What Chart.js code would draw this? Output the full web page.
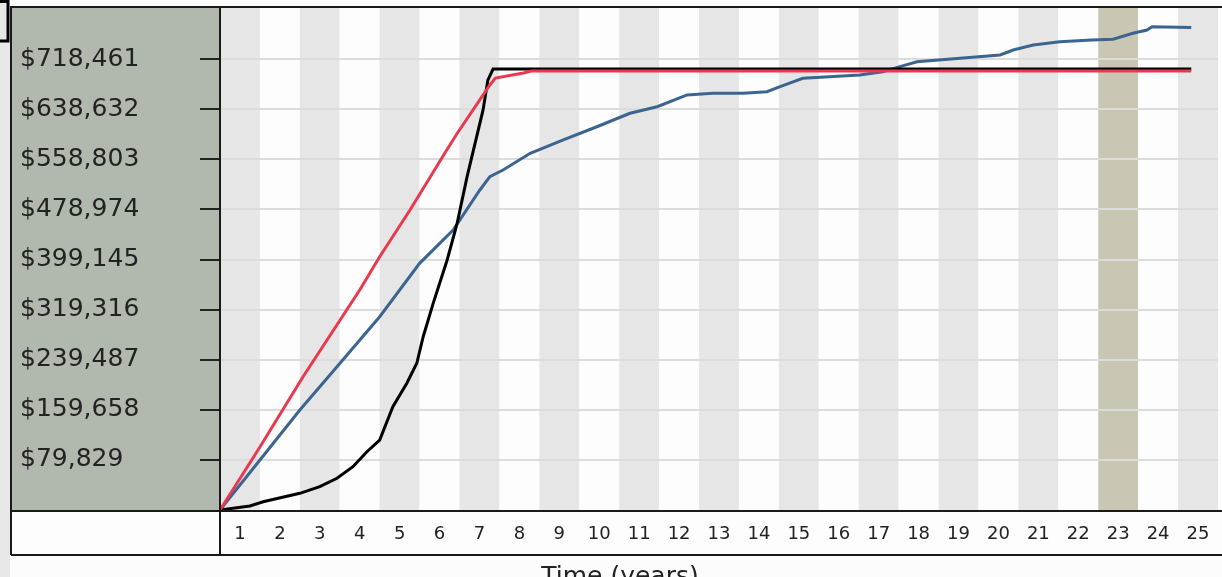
<!DOCTYPE html>
<html>
<head>
<meta charset="utf-8">
<script src="https://cdn.jsdelivr.net/npm/chart.js@4.4.0/dist/chart.umd.min.js"></script>
<style>
  html, body { margin: 0; padding: 0; background: #fcfcfc; overflow: hidden; }
  canvas { display: block; }
</style>
</head>
<body>
<canvas id="chart" width="1222" height="577"></canvas>
<script>
// x axis: years, labels sit in the middle of each year band
const yearLabels = ["1","2","3","4","5","6","7","8","9","10","11","12","13",
                    "14","15","16","17","18","19","20","21","22","23","24","25"];
const highlightYear = 23;
const yStep = 79829;
const yMax  = 798290;

// red series
const redT = [0, 1.0, 2.08, 3.5, 4.0, 4.76, 5.68, 5.94, 6.76, 6.9, 7.6, 7.8, 24.33];
const redV = [0, 100400, 212400, 350500, 403600, 478000, 573600, 600000, 677200, 688300, 696300, 699500, 699500];

// black series
const blackT = [0, 0.75, 1.08, 2.0, 2.5, 2.93, 3.33, 3.68, 4.0, 4.33, 4.68, 4.93, 5.09,
                5.34, 5.69, 5.94, 6.19, 6.59, 6.71, 6.84, 24.33];
const blackV = [0, 6400, 13200, 26600, 37100, 50500, 69000, 92900, 111500, 164600, 201900, 233800, 276100,
                329300, 398400, 456800, 531100, 637400, 685000, 702700, 702700];

// blue series
const blueT = [0, 1.0, 2.0, 2.93, 4.0, 5.0, 5.84, 6.51, 6.76, 7.09, 7.77, 8.6, 9.44, 10.27, 10.95,
               11.7, 12.35, 13.1, 13.7, 14.03, 14.6, 16.03, 16.6, 17.03, 17.46, 18.54, 19.54,
               19.87, 20.37, 21.04, 21.84, 22.37, 22.87, 23.22, 23.35, 24.33];
const blueV = [0, 79700, 159300, 228300, 308000, 393000, 446100, 509900, 531100, 541800, 568400, 589600,
               610700, 632100, 642600, 661300, 664000, 664000, 666500, 674500, 687900, 693100, 698400,
               706400, 714300, 719700, 725000, 733000, 740900, 746200, 748900, 750000, 759600, 764800,
               770100, 769000];

const FONT = "'DejaVu Sans', Verdana, sans-serif";
const pairs = (t, v) => t.map((x, i) => ({ x, y: v[i] }));
const money = v => "$" + String(v).replace(/\B(?=(\d{3})+(?!\d))/g, ",");

// background panels and year stripes
const backdrop = {
  id: "backdrop",
  beforeDraw(chart) {
    const { ctx, chartArea: a, scales: { x } } = chart;
    ctx.save();
    ctx.fillStyle = "#fcfcfc";
    ctx.fillRect(0, 0, chart.width, chart.height);
    ctx.fillStyle = "#e8e8e8";
    ctx.fillRect(0, 0, 10, chart.height);
    ctx.fillStyle = "#b1b8ae";
    ctx.fillRect(11, 7, a.left - 11, a.bottom - 7);
    ctx.fillStyle = "#fdfdfd";
    ctx.fillRect(11, a.bottom, chart.width - 11, 45);
    ctx.fillRect(a.left, 7, chart.width - a.left, a.bottom - 7);
    yearLabels.forEach((l, i) => {
      const x0 = x.getPixelForValue(i), x1 = x.getPixelForValue(i + 1);
      if (Number(l) === highlightYear) ctx.fillStyle = "#c9c7b3";
      else ctx.fillStyle = i % 2 === 0 ? "#e6e6e6" : "#fdfdfd";
      ctx.fillRect(x0, 7, x1 - x0, a.bottom - 7);
    });
    ctx.restore();
  },
  afterDraw(chart) {
    const { ctx, chartArea: a } = chart;
    const W = chart.width;
    ctx.save();
    ctx.strokeStyle = "#1a1a1a";
    ctx.lineWidth = 2;
    ctx.beginPath();
    ctx.moveTo(10, 7);  ctx.lineTo(W, 7);
    ctx.moveTo(11, 6);  ctx.lineTo(11, a.bottom + 45);
    ctx.moveTo(a.left, 6); ctx.lineTo(a.left, a.bottom + 45);
    ctx.moveTo(11, a.bottom + 1); ctx.lineTo(W, a.bottom + 1);
    ctx.moveTo(11, a.bottom + 45); ctx.lineTo(W, a.bottom + 45);
    ctx.stroke();
    // small bracket mark at the top-left corner
    ctx.lineWidth = 3;
    ctx.strokeStyle = "#000";
    ctx.beginPath();
    ctx.moveTo(0, 1.5); ctx.lineTo(8, 1.5); ctx.lineTo(8, 41); ctx.lineTo(0, 41);
    ctx.stroke();
    // axis title, cut by the bottom edge
    ctx.fillStyle = "#222";
    ctx.font = "25px " + FONT;
    ctx.textAlign = "center";
    ctx.textBaseline = "alphabetic";
    ctx.fillText("Time (years)", 620, 584);
    ctx.restore();
  }
};

new Chart(document.getElementById("chart"), {
  type: "line",
  data: {
    datasets: [
      { label: "Red",   data: pairs(redT, redV),     borderColor: "#e8394f", borderWidth: 3 },
      { label: "Black", data: pairs(blackT, blackV), borderColor: "#000000", borderWidth: 3 },
      { label: "Blue",  data: pairs(blueT, blueV),   borderColor: "#3b6590", borderWidth: 3 }
    ]
  },
  options: {
    responsive: false,
    animation: false,
    devicePixelRatio: 1,
    parsing: false,
    elements: { point: { radius: 0 }, line: { tension: 0, borderCapStyle: "butt" } },
    layout: { padding: { left: 20, top: 9, right: 4, bottom: 22 } },
    plugins: { legend: { display: false }, tooltip: { enabled: false } },
    scales: {
      x: {
        type: "linear",
        min: 0,
        max: yearLabels.length,
        afterFit: s => { s.height = 45; s.paddingLeft = 0; s.paddingRight = 0; },
        afterBuildTicks: s => { s.ticks = yearLabels.map((l, i) => ({ value: i + 0.5 })); },
        grid: { display: false, drawTicks: false },
        border: { display: false },
        ticks: {
          autoSkip: false,
          maxRotation: 0,
          padding: 14,
          color: "#222",
          font: { family: FONT, size: 18 },
          callback: (v, i) => yearLabels[i]
        }
      },
      y: {
        min: 0,
        max: yMax,
        afterFit: s => { s.width = 200; s.paddingTop = 0; s.paddingBottom = 0; },
        grid: {
          color: "#dcdcdc",
          lineWidth: 2,
          tickLength: 20,
          tickColor: "#222",
          tickWidth: 2
        },
        border: { display: false },
        ticks: {
          stepSize: yStep,
          crossAlign: "far",
          color: "#222",
          font: { family: FONT, size: 25 },
          callback: v => (v <= 0 || v >= yMax) ? null : money(v)
        }
      }
    }
  },
  plugins: [backdrop]
});
</script>
</body>
</html>
